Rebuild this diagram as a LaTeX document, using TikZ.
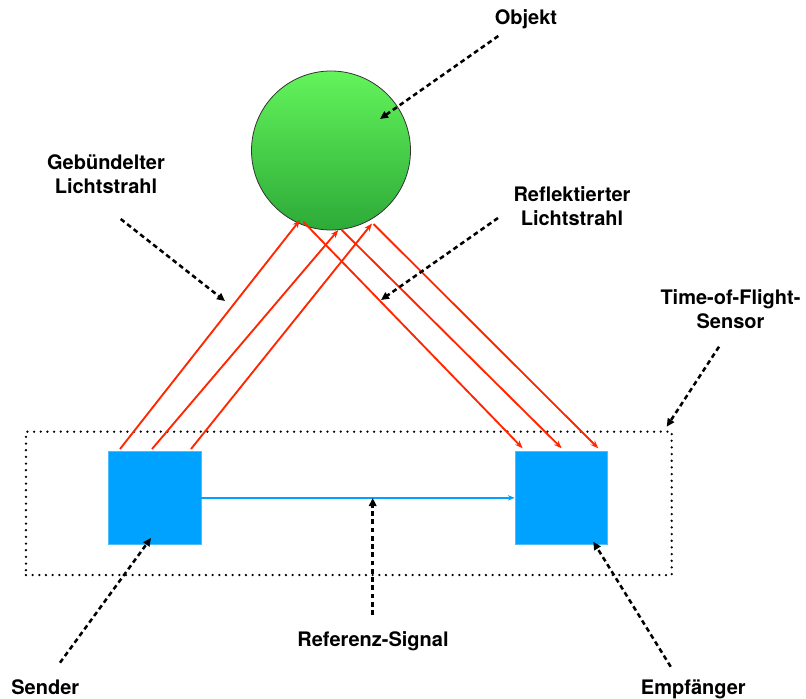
\documentclass[tikz,border=0pt]{standalone}
\usepackage{fontspec}
\setmainfont{TeX Gyre Heros}
\usetikzlibrary{arrows.meta}
\definecolor{tofred}{HTML}{FF2600}
\definecolor{tofblue}{HTML}{00A2FF}
\definecolor{greentop}{HTML}{63F45B}
\definecolor{greenmid}{HTML}{50E050}
\definecolor{greenbot}{HTML}{2DAA38}
\begin{document}
\begin{tikzpicture}[x=0.75pt,y=-0.75pt,
  lbl/.style={font=\fontsize{15}{17.6}\selectfont\bfseries, inner sep=0pt, align=center},
  lead/.style={line width=1.9pt, dash pattern=on 3.6pt off 2.6pt, -{Triangle[length=6pt,width=5.5pt]}},
  ray/.style={tofred, line width=1.4pt, -{Stealth[length=6pt,width=4.5pt]}},
  unit/.style={fill=tofblue, draw=tofblue!70!white, line width=0.6pt, minimum width=69.5pt, minimum height=69.2pt, inner sep=0pt},
  frame/.style={draw=black, line width=1.9pt, dash pattern=on 0pt off 5pt, line cap=round, inner sep=0pt},
]
\useasboundingbox (0,0) rectangle (806,699);
% sensor frame
\node[frame, minimum width=484.3pt, minimum height=107.5pt] (tof) at (348.85,503.35) {};
% object
\node[circle, draw=black!80, line width=0.6pt, top color=greentop, middle color=greenmid, bottom color=greenbot, minimum size=119.25pt, inner sep=0pt] (obj) at (331,150.5) {};
% sender and receiver
\node[unit] (send) at (154.65,497.85) {};
\node[unit] (recv) at (561.35,497.85) {};
% reference signal
\draw[tofblue, line width=1.6pt, -{Stealth[length=5pt,width=4pt]}] (send.east) -- (recv.west);
% light rays
\coordinate (s1) at (120,449);
\coordinate (s2) at (152,449);
\coordinate (s3) at (191,449);
\coordinate (h1) at (300,220);
\coordinate (h2) at (338.3,230);
\coordinate (h3) at (372,223.5);
\coordinate (q1) at (303.3,221.7);
\coordinate (q2) at (341.7,230);
\coordinate (q3) at (373.5,224);
\coordinate (e1) at (522.7,448.3);
\coordinate (e2) at (561.7,448.3);
\coordinate (e3) at (598.3,448.3);
\draw[ray] (s1) -- (h1);
\draw[ray] (s2) -- (h2);
\draw[ray] (s3) -- (h3);
\draw[ray] (q1) -- (e1);
\draw[ray] (q2) -- (e2);
\draw[ray] (q3) -- (e3);
% labels
\node[lbl, anchor=base] (lobj) at (526,24.5) {Objekt};
\node[lbl] (lgeb) at (106,174) {Gebündelter\\Lichtstrahl};
\node[lbl] (lref) at (572,206.3) {Reflektierter\\Lichtstrahl};
\node[lbl] (ltof) at (730.5,309.3) {Time-of-Flight-\\Sensor};
\node[lbl, anchor=base] (lsig) at (373,646.5) {Referenz-Signal};
\node[lbl, anchor=base] (lsend) at (45.3,694) {Sender};
\node[lbl, anchor=base] (lrecv) at (693.3,694) {Empfänger};
% leader lines
\coordinate (a1) at (498.3,36);   \coordinate (b1) at (380,119);
\coordinate (a2) at (120.7,219);  \coordinate (b2) at (225,301);
\coordinate (a3) at (498,218);    \coordinate (b3) at (381,300);
\coordinate (a4) at (719,346.7);  \coordinate (b4) at (666.7,426.7);
\coordinate (a5) at (60,662.7);   \coordinate (b5) at (151,538);
\coordinate (a6) at (372.7,615);  \coordinate (b6) at (372.7,498);
\coordinate (a7) at (670.7,666.7); \coordinate (b7) at (593.3,541.7);
\draw[lead] (a1) -- (b1);
\draw[lead] (a2) -- (b2);
\draw[lead] (a3) -- (b3);
\draw[lead] (a4) -- (b4);
\draw[lead] (a5) -- (b5);
\draw[lead] (a6) -- (b6);
\draw[lead] (a7) -- (b7);
\end{tikzpicture}
\end{document}
